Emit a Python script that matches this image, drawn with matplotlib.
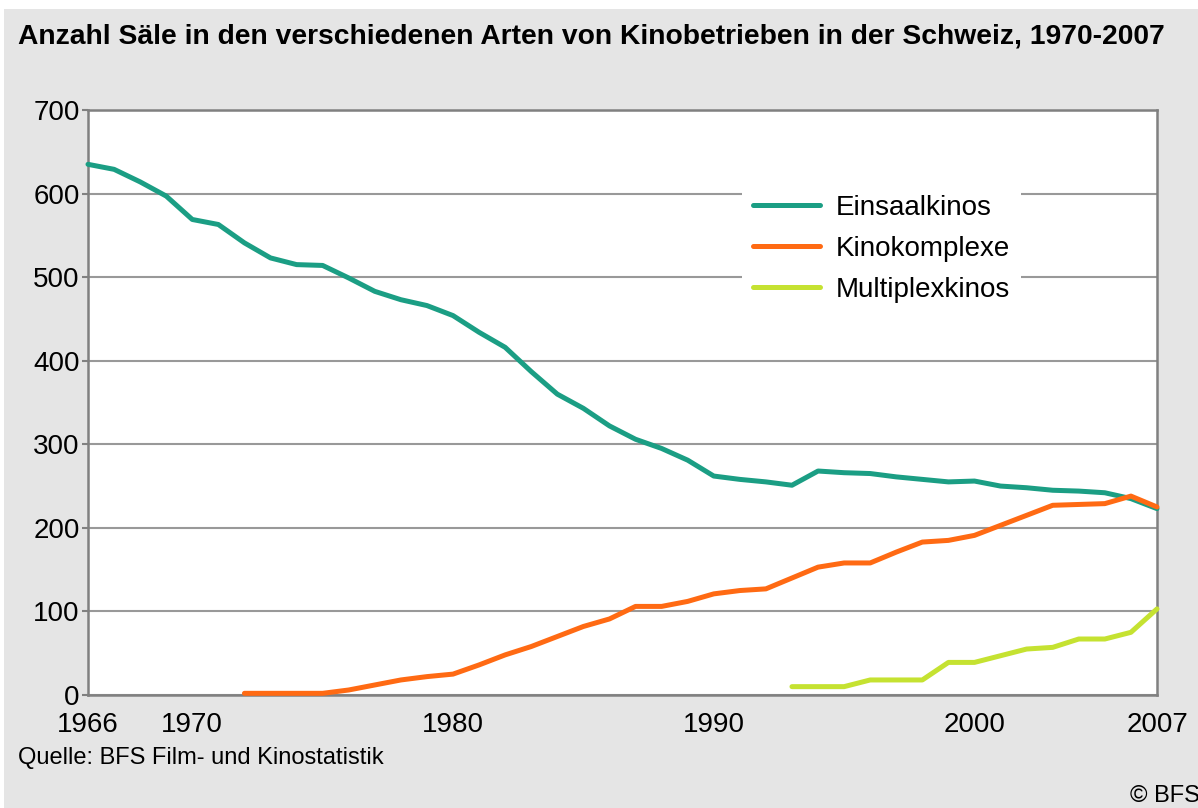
import matplotlib
matplotlib.use("Agg")
import matplotlib.pyplot as plt
from matplotlib.patches import Rectangle

# ── Data ───────────────────────────────────────────────────────
YEARS_EINSAAL = list(range(1966, 2008))
EINSAAL = [635, 629, 614, 597, 569, 563, 541, 523, 515, 514,
           499, 483, 473, 466, 454, 434, 416, 387, 360, 343,
           322, 306, 295, 281, 262, 258, 255, 251, 268, 266,
           265, 261, 258, 255, 256, 250, 248, 245, 244, 242,
           235, 223]

YEARS_KOMPLEX = list(range(1972, 2008))
KOMPLEX = [2, 2, 2, 2, 6, 12, 18, 22, 25, 36,
           48, 58, 70, 82, 91, 106, 106, 112, 121, 125,
           127, 140, 153, 158, 158, 171, 183, 185, 191, 203,
           215, 227, 228, 229, 238, 225]

YEARS_MULTI = list(range(1993, 2008))
MULTI = [10, 10, 10, 18, 18, 18, 39, 39, 47, 55, 57, 67, 67, 75, 103]

X_TICKS = [1966, 1970, 1980, 1990, 2000, 2007]
Y_TICKS = [0, 100, 200, 300, 400, 500, 600, 700]

TITLE = "Anzahl Säle in den verschiedenen Arten von Kinobetrieben in der Schweiz, 1970-2007"
SOURCE = "Quelle: BFS Film- und Kinostatistik"
COPYRIGHT = "© BFS"

COLORS = {"Einsaalkinos": "#1b9e84", "Kinokomplexe": "#ff6a13", "Multiplexkinos": "#c5e231"}
# ───────────────────────────────────────────────────────────────

plt.rcParams["font.family"] = ["Liberation Sans", "DejaVu Sans"]

W, H = 1198, 808
fig = plt.figure(figsize=(W / 100, H / 100), dpi=100)
fig.patch.set_facecolor("white")
fig.patches.append(Rectangle((4 / W, 0), 1, 1 - 9 / H, transform=fig.transFigure,
                             facecolor="#e5e5e5", edgecolor="none", zorder=-10))

ax = fig.add_axes([88 / W, 1 - 695 / H, (1157 - 88) / W, (695 - 110) / H])
ax.set_facecolor("white")

lw = 3.6
ax.plot(YEARS_EINSAAL, EINSAAL, color=COLORS["Einsaalkinos"], lw=lw,
        solid_capstyle="round", label="Einsaalkinos", clip_on=False, zorder=3)
ax.plot(YEARS_KOMPLEX, KOMPLEX, color=COLORS["Kinokomplexe"], lw=lw,
        solid_capstyle="round", label="Kinokomplexe", clip_on=False, zorder=3)
ax.plot(YEARS_MULTI, MULTI, color=COLORS["Multiplexkinos"], lw=lw,
        solid_capstyle="round", label="Multiplexkinos", clip_on=False, zorder=3)

ax.set_xlim(1966, 2007)
ax.set_ylim(0, 700)
ax.set_xticks(X_TICKS)
ax.set_yticks(Y_TICKS)
ax.tick_params(axis="x", length=0, labelsize=20, pad=12, colors="black")
ax.tick_params(axis="y", length=4, width=1.5, color="#808080", labelsize=20, pad=2)
ax.yaxis.grid(True, color="#999999", lw=1.5)
ax.set_axisbelow(True)
for sp in ax.spines.values():
    sp.set_color("#808080")
    sp.set_linewidth(1.8)

leg = ax.legend(loc="upper left", bbox_to_anchor=(0.599, 0.898), fontsize=20,
                frameon=True, framealpha=1, facecolor="white", edgecolor="none",
                handlelength=2.4, handletextpad=0.55, labelspacing=0.54,
                borderpad=0.4, fancybox=False)
leg.set_zorder(4)

fig.text(18 / W, 1 - 37 / H, TITLE, fontsize=20.3, fontweight="bold", va="center", ha="left")
fig.text(18 / W, 1 - 758 / H, SOURCE, fontsize=17, va="center", ha="left")
fig.text(1130 / W, 1 - 796 / H, COPYRIGHT, fontsize=17, va="center", ha="left")

fig.savefig("out.png", dpi=100)
